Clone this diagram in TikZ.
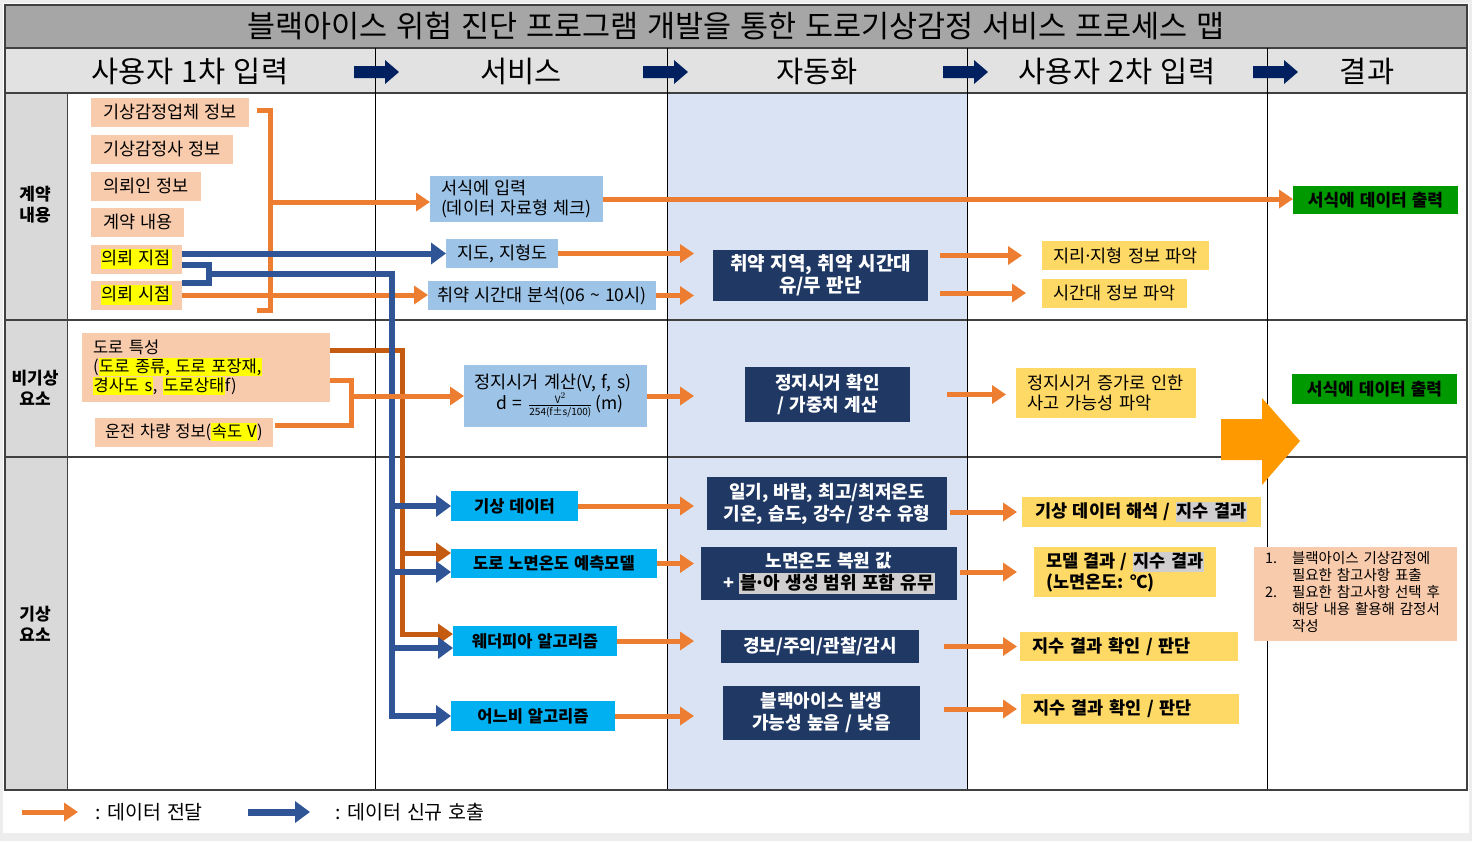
\documentclass[tikz,border=0pt]{standalone}
\usepackage{amsmath}
\usepackage{fontspec}
\setmainfont{Noto Sans CJK KR}[WordSpace=1.3]
\usetikzlibrary{arrows.meta,calc}

\definecolor{peach}{HTML}{F8CBAD}
\definecolor{svcblue}{HTML}{9DC3E6}
\definecolor{navy}{HTML}{1F3864}
\definecolor{cyanbox}{HTML}{00B0F0}
\definecolor{yelbox}{HTML}{FFD966}
\definecolor{outgreen}{HTML}{009A00}
\definecolor{flowor}{HTML}{ED7D31}
\definecolor{darkor}{HTML}{C55A11}
\definecolor{callblue}{HTML}{2F5597}
\definecolor{titlegray}{HTML}{A6A6A6}
\definecolor{headgray}{HTML}{E2E2E2}
\definecolor{labelgray}{HTML}{D9D9D9}
\definecolor{autoblue}{HTML}{DAE3F3}
\definecolor{hlyel}{HTML}{FFFF00}
\definecolor{hlgray}{HTML}{D0CECE}
\definecolor{bigor}{HTML}{FF9900}
\definecolor{hdrnavy}{HTML}{002060}
\definecolor{gridline}{HTML}{404040}

\newcommand\hly[1]{{\setlength{\fboxsep}{0.6pt}\colorbox{hlyel}{\vphantom{가(}#1}}}
\newcommand\hlg[1]{{\setlength{\fboxsep}{1pt}\colorbox{hlgray}{\vphantom{가(}#1}}}
\newcommand\mdot{\kern-0.12em·\kern-0.12em}
\newcommand\fsmall{\fontsize{10}{11}\selectfont}

\begin{document}
\begin{tikzpicture}[x=1pt,y=-1pt]
    \tikzstyle{every node} = [inner sep=0pt, outer sep=0pt]
    \tikzstyle{body} = [font=\fontsize{17.5}{20}\selectfont]
    \tikzstyle{inbox} = [body, fill=peach, anchor=west, inner xsep=12pt, minimum height=29pt]
    \tikzstyle{svcbox} = [body, fill=svcblue, inner xsep=11pt]
    \tikzstyle{autobox} = [fill=navy, text=white, align=center, font=\fontsize{18}{22}\selectfont\bfseries]
    \tikzstyle{modbox} = [fill=cyanbox, font=\fontsize{16.5}{19}\selectfont\bfseries]
    \tikzstyle{chkbox} = [body, fill=yelbox, anchor=west, inner xsep=11pt, minimum height=29pt, align=left]
    \tikzstyle{resbox} = [fill=yelbox, font=\fontsize{17.5}{21}\selectfont\bfseries]
    \tikzstyle{outbox} = [fill=outgreen, minimum width=165pt, font=\fontsize{17}{19}\selectfont\bfseries]
    \tikzstyle{dataline} = [draw=flowor, line width=5pt]
    \tikzstyle{dataflow} = [dataline, -{Triangle[length=14pt,width=18pt]}]
    \tikzstyle{callline} = [draw=callblue, line width=6pt]
    \tikzstyle{datacall} = [callline, -{Triangle[length=15pt,width=21pt]}]
    \tikzstyle{roadflow} = [draw=darkor, line width=5pt, -{Triangle[length=15pt,width=20pt]}]

    % page and table
    \fill[black!7] (0,0) rectangle (1472,841);
    \fill[white] (3,3) rectangle (1469,833);
    \fill[titlegray] (5,5) rectangle (1467,48);
    \fill[headgray] (5,48) rectangle (1467,93);
    \fill[labelgray] (5,93) rectangle (67,790);
    \fill[autoblue] (667,93) rectangle (967,790);
    \foreach \y in {48,93,320,457}
        \draw[gridline, line width=1.3pt] (5,\y) -- (1467,\y);
    \draw[gridline, line width=1pt] (67,93) -- (67,790);
    \foreach \x in {375,667,967,1267}
        \draw[black, line width=1pt] (\x,48) -- (\x,790);
    \draw[gridline, line width=1.5pt] (5,5) rectangle (1467,790);

    % title and headers
    \node[font=\fontsize{30.5}{34}\selectfont] (title) at (736,26) {블랙아이스 위험 진단 프로그램 개발을 통한 도로기상감정 서비스 프로세스 맵};
    \foreach \n/\x/\t in {hin1/190/사용자 1차 입력, hsvc/521/서비스, hauto/817/자동화, hin2/1117/사용자 2차 입력, hres/1367/결과}
        \node[font=\fontsize{29.5}{32}\selectfont] (\n) at (\x,71) {\t};
    \foreach \x in {354,643,943,1253}
        \fill[hdrnavy] (\x,66) -- (\x+31,66) -- (\x+31,60) -- (\x+45,72) -- (\x+31,84) -- (\x+31,78) -- (\x,78) -- cycle;

    % row labels
    \node[font=\fontsize{17}{21}\selectfont\bfseries, align=center] (lab1) at (35,205) {계약\\내용};
    \node[font=\fontsize{17}{21}\selectfont\bfseries, align=center] (lab2) at (35,388) {비기상\\요소};
    \node[font=\fontsize{17}{21}\selectfont\bfseries, align=center] (lab3) at (35,624) {기상\\요소};

    % contract row
    \node[inbox] (firm) at (91,112) {기상감정업체 정보};
    \node[inbox] (apr) at (91,149) {기상감정사 정보};
    \node[inbox] (client) at (91,186) {의뢰인 정보};
    \node[inbox] (cont) at (91,222) {계약 내용};
    \node[inbox, inner xsep=10pt] (site) at (91,259) {\hly{의뢰 지점}};
    \node[inbox, inner xsep=10pt] (time) at (91,295) {\hly{의뢰 시점}};
    \node[svcbox, anchor=west, align=left, minimum height=46pt] (form) at (430,199) {서식에 입력\\(데이터 자료형 체크)};
    \node[svcbox, anchor=west, minimum height=29pt] (map) at (446,253.5) {지도, 지형도};
    \node[svcbox, anchor=west, minimum height=29pt, inner xsep=9pt] (ana) at (428,295.5) {취약 시간대 분석(06 \textasciitilde{} 10시)};
    \node[autobox, minimum width=215pt, minimum height=51pt, font=\fontsize{19}{22}\selectfont\bfseries] (weak) at (820.5,275.5) {취약 지역, 취약 시간대\\유/무 판단};
    \node[chkbox] (geo) at (1042,255.5) {지리\mdot 지형 정보 파악};
    \node[chkbox] (tzone) at (1042,293) {시간대 정보 파악};
    \node[outbox, minimum height=28pt] (out1) at (1375.5,200) {서식에 데이터 출력};

    % non-weather row
    \node[inbox, anchor=north west, text width=226pt, align=left, minimum height=69pt, inner xsep=11pt, font=\fontsize{16.5}{19}\selectfont] (rprop) at (82,333)
        {도로 특성\\(\hly{도로 종류, 도로 포장재,}\\\hly{경사도 s}, \hly{도로상태}f)};
    \node[inbox, inner xsep=10pt, font=\fontsize{16.5}{19}\selectfont] (drive) at (95,432) {운전 차량 정보(\hly{속도 V})};
    \node[svcbox, anchor=north west, text width=163pt, align=left, minimum height=62pt, inner xsep=10pt] (stop) at (464,365)
        {정지시거 계산(V, f, s)\\\mbox{\hspace*{22pt}d = $\frac{\text{\fsmall V}^{2}}{\text{\fsmall 254(f±s/100)}}$\,(m)}};
    \node[autobox, minimum width=165pt, minimum height=55pt] (stopck) at (827.5,394.5) {정지시거 확인\\/ 가중치 계산};
    \node[chkbox, anchor=north west, text width=158pt, minimum height=50pt] (acc) at (1016,368) {정지시거 증가로 인한\\사고 가능성 파악};
    \node[outbox, minimum height=30pt] (out2) at (1374.5,389) {서식에 데이터 출력};
    \fill[bigor] (1221,419) -- (1262,419) -- (1262,398) -- (1300,441) -- (1262,485) -- (1262,460) -- (1221,460) -- cycle;

    % weather row
    \node[modbox, minimum width=127pt, minimum height=30pt] (wdata) at (514.5,506) {기상 데이터};
    \node[modbox, minimum width=206pt, minimum height=29pt] (road) at (554,563.5) {도로 노면온도 예측모델};
    \node[modbox, minimum width=164pt, minimum height=30pt] (wpia) at (535,641) {웨더피아 알고리즘};
    \node[modbox, minimum width=164pt, minimum height=30pt] (rain) at (533,716) {어느비 알고리즘};
    \node[autobox, minimum width=240pt, minimum height=53pt] (wx) at (827,503.5) {일기, 바람, 최고/최저온도\\기온, 습도, 강수/ 강수 유형};
    \node[autobox, minimum width=256pt, minimum height=53pt] (rtemp) at (829,573.5) {노면온도 복원 값\\+ \hlg{\color{black}블\mdot 아 생성 범위 포함 유무}};
    \node[autobox, minimum width=198pt, minimum height=33pt] (alert) at (820,646.5) {경보/주의/관찰/감시};
    \node[autobox, minimum width=197pt, minimum height=54pt] (bi) at (821.5,713) {블랙아이스 발생\\가능성 높음 / 낮음};
    \node[resbox, minimum width=239pt, minimum height=30pt] (wres) at (1141.5,512) {기상 데이터 해석 / \hlg{지수 결과}};
    \node[resbox, anchor=north west, align=left, inner xsep=12pt, minimum height=50pt] (mres) at (1034,547) {모델 결과 / \hlg{지수 결과}\\(노면온도: ℃)};
    \node[resbox, anchor=west, text width=194pt, align=left, inner xsep=12pt, minimum height=29pt] (chk1) at (1020,646.5) {지수 결과 확인 / 판단};
    \node[resbox, anchor=west, text width=194pt, align=left, inner xsep=12pt, minimum height=30pt] (chk2) at (1021,709) {지수 결과 확인 / 판단};
    \node[inbox, anchor=north west, text width=181pt, align=left, minimum height=94pt, inner xsep=11pt, font=\fontsize{14.5}{16}\selectfont] (note) at (1254,547)
        {\begin{tabular}{@{}p{27pt}@{}l@{}}
        1. & 블랙아이스 기상감정에\\
           & 필요한 참고사항 표출\\
        2. & 필요한 참고사항 선택 후\\
           & 해당 내용 활용해 감정서\\
           & 작성
        \end{tabular}};

    % legend
    \node[font=\fontsize{19.5}{22}\selectfont, anchor=west] (lgpass) at (95,812) {: 데이터 전달};
    \node[font=\fontsize{19.5}{22}\selectfont, anchor=west] (lgcall) at (335,812) {: 데이터 신규 호출};
    \coordinate (lgpassfrom) at (22,812);
    \coordinate (lgcallfrom) at (248,812);
    \draw[dataflow, shorten >=17pt] (lgpassfrom) -- (lgpass.west);
    \draw[datacall, line width=7pt, shorten >=25pt] (lgcallfrom) -- (lgcall.west);

    % connectors
    \coordinate (bk1) at (257,110);
    \coordinate (bkx) at (270,202);
    \coordinate (bk2) at (257,310);
    \coordinate (rbkx) at (351,396);
    \coordinate (c3in) at (694,0);
    \coordinate (c4in) at (1017,0);
    \coordinate (trunk) at (392,0);
    \coordinate (rtrunk) at (402,0);
    \coordinate (sbk1) at ($(site.east)+(0,6)$);
    \coordinate (sbkx) at ($(site.east)+(27,15)$);
    \coordinate (sbk2) at ($(time.east)+(0,-12)$);

    \draw[dataline] (bk1) -| (bkx) |- (bk2);
    \draw[dataflow] (bkx) -- (bkx -| form.west);
    \draw[dataflow] (form.east) -- (form.east -| out1.west);
    \draw[dataflow] (time.east) -- (time.east -| ana.west);
    \draw[dataflow] (map.east) -- (map.east -| c3in);
    \draw[dataflow] (ana.east) -- (ana.east -| c3in);
    \draw[dataflow, shorten <=12pt, shorten >=20pt] (weak.east |- geo.west) -- (geo.west);
    \draw[dataflow, shorten <=12pt, shorten >=16pt] (weak.east |- tzone.west) -- (tzone.west);

    \draw[roadflow] (rprop.east |- 0,350) -| (rtrunk |- 0,634) -- (wpia.west |- 0,634);
    \draw[roadflow] (rtrunk |- 0,553) -- (road.west |- 0,553);

    \draw[datacall] (site.east |- map.west) -- (map.west);
    \draw[callline] (sbk1) -| (sbkx) |- (sbk2);
    \draw[datacall] (sbkx) -| (trunk |- rain.west) -- (rain.west);
    \foreach \n/\yy in {wdata/506, road/572, wpia/648}
        \draw[datacall] (trunk |- 0,\yy) -- (\n.west |- 0,\yy);

    \draw[dataline] (rprop.east |- 0,380) -| (rbkx) |- ($(drive.east)+(2,-7)$);
    \draw[dataflow] (rbkx) -- (rbkx -| stop.west);
    \draw[dataflow] (stop.east) -- (stop.east -| c3in);
    \draw[dataflow, shorten <=37pt, shorten >=10pt] (stopck.east) -- (stopck.east -| acc.west);

    \foreach \a in {wdata,road,wpia,rain}
        \draw[dataflow] (\a.east) -- (\a.east -| c3in);
    \foreach \a/\b/\s in {wx/wres/3, rtemp/mres/3, alert/chk1/25, bi/chk2/24}
        \draw[dataflow, shorten <=\s pt] (\a.east |- \b.west) -- (c4in |- \b.west);
\end{tikzpicture}
\end{document}
